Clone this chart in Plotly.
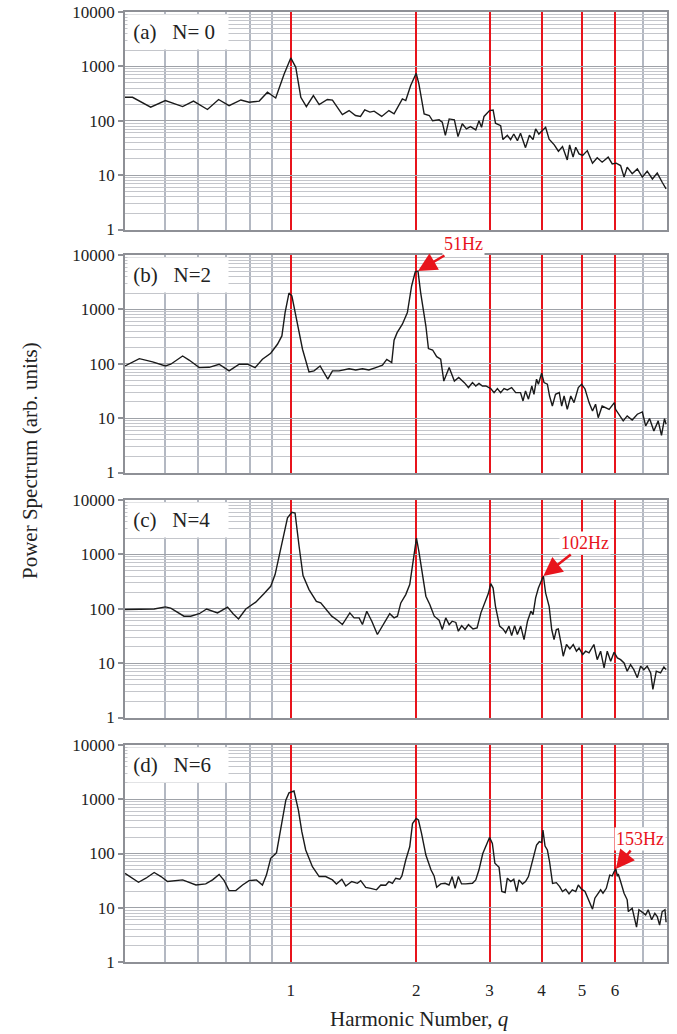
import numpy as np
import plotly.graph_objects as go

# ---------------- data ----------------
panel_labels = ["(a)&nbsp;&nbsp;&nbsp;N= 0", "(b)&nbsp;&nbsp;&nbsp;N=2", "(c)&nbsp;&nbsp;&nbsp;N=4", "(d)&nbsp;&nbsp;&nbsp;N=6"]
harmonics = [1, 2, 3, 4, 5, 6]
harmonic_labels = ["1", "2", "3", "4", "5", "6"]
y_ticks = [1, 10, 100, 1000, 10000]
y_tick_labels = ["1", "10", "100", "1000", "10000"]

q_a = [0.398, 0.417, 0.461, 0.500, 0.550, 0.584, 0.631, 0.671, 0.711, 0.759, 0.794, 0.840, 0.879, 0.920,
       0.964, 1.000, 1.028, 1.057, 1.090, 1.133, 1.170, 1.224, 1.259, 1.330, 1.380, 1.430, 1.470, 1.505,
       1.549, 1.585, 1.653, 1.720, 1.770, 1.853, 1.888, 1.940, 2.000, 2.030, 2.090, 2.150, 2.190, 2.270,
       2.310, 2.350, 2.400, 2.470, 2.520, 2.580, 2.640, 2.700, 2.780, 2.830, 2.870, 2.910, 3.000, 3.060,
       3.100, 3.190, 3.230, 3.310, 3.370, 3.430, 3.500, 3.560, 3.660, 3.740, 3.815, 3.870, 3.940, 4.020,
       4.090, 4.170, 4.290, 4.390, 4.490, 4.610, 4.670, 4.760, 4.830, 4.920, 5.020, 5.150, 5.300, 5.440,
       5.590, 5.780, 5.910, 6.040, 6.190, 6.310, 6.420, 6.600, 6.790, 6.980, 7.170, 7.380, 7.580, 7.790, 7.960]
p_a = [270, 270, 178, 235, 182, 230, 161, 246, 190, 241, 219, 230, 334, 262,
       725, 1430, 960, 270, 182, 290, 198, 246, 240, 130, 154, 125, 120, 158,
       144, 150, 120, 154, 134, 252, 235, 444, 745, 475, 134, 125, 100, 104,
       94, 54, 108, 104, 51, 88, 71, 78, 68, 100, 76, 120, 154, 158,
       90, 81, 45, 54, 45, 57, 43, 59, 32, 54, 45, 71, 57, 66,
       76, 46, 36, 27.5, 33.6, 19, 36, 21.4, 32.6, 24.6, 23, 28.2, 16.6, 20.8,
       17.3, 21.4, 16.1, 16.6, 15, 9.2, 14, 10.6, 13, 9.2, 11.8, 8.5, 10.9, 7.4, 5.6]

q_b = [0.400, 0.433, 0.466, 0.500, 0.515, 0.550, 0.570, 0.603, 0.637, 0.673, 0.711, 0.752, 0.787, 0.821,
       0.855, 0.895, 0.929, 0.952, 0.969, 0.990, 1.006, 1.032, 1.067, 1.106, 1.137, 1.176, 1.196, 1.227,
       1.259, 1.306, 1.380, 1.432, 1.486, 1.540, 1.600, 1.630, 1.660, 1.700, 1.747, 1.770, 1.800, 1.853,
       1.905, 1.950, 1.990, 2.020, 2.050, 2.110, 2.140, 2.190, 2.240, 2.290, 2.330, 2.400, 2.470, 2.530,
       2.610, 2.670, 2.730, 2.780, 2.830, 2.884, 2.940, 3.020, 3.076, 3.133, 3.190, 3.250, 3.310, 3.390,
       3.467, 3.560, 3.610, 3.660, 3.720, 3.790, 3.835, 3.890, 3.930, 4.000, 4.055, 4.130, 4.180, 4.245,
       4.320, 4.410, 4.470, 4.530, 4.610, 4.700, 4.785, 4.900, 4.990, 5.085, 5.200, 5.300, 5.390, 5.470,
       5.590, 5.810, 5.980, 6.020, 6.155, 6.280, 6.420, 6.600, 6.790, 6.980, 7.110, 7.265, 7.440, 7.620,
       7.760, 7.890, 7.960]
p_b = [91, 124, 108, 91, 98, 139, 117, 85, 86, 98, 74, 98, 98, 85,
       121, 156, 228, 325, 870, 1990, 1780, 708, 185, 71, 74, 91, 74, 52,
       74, 74, 81, 77, 81, 77, 85, 89, 94, 120, 105, 270, 373, 533,
       871, 2690, 4900, 5070, 2040, 494, 190, 179, 135, 121, 48, 85, 48, 56,
       45, 36.5, 45, 39, 43.6, 39, 39, 35, 29.5, 35, 29.5, 35, 33, 36.5,
       29.5, 29.5, 20.7, 31.6, 22.3, 39, 27.4, 52, 42, 67, 45, 42, 25.5, 16.7,
       27.4, 29.5, 16.7, 25.5, 14.5, 25.5, 19.3, 36.5, 42, 34.4, 19.3, 13.5, 18, 10.2,
       16.7, 14.5, 19.3, 14.5, 11, 8.9, 11, 9.25, 11.8, 13, 7.2, 9.8, 5.8, 8.9,
       4.8, 9.8, 7.7]

q_c = [0.400, 0.433, 0.470, 0.500, 0.515, 0.554, 0.575, 0.603, 0.628, 0.667, 0.705, 0.727, 0.749, 0.780,
       0.824, 0.863, 0.895, 0.917, 0.946, 0.982, 1.006, 1.024, 1.047, 1.070, 1.106, 1.152, 1.180, 1.254,
       1.294, 1.330, 1.386, 1.419, 1.459, 1.486, 1.522, 1.565, 1.614, 1.675, 1.728, 1.770, 1.803, 1.837,
       1.888, 1.930, 1.966, 2.003, 2.030, 2.070, 2.110, 2.156, 2.210, 2.270, 2.310, 2.355, 2.400, 2.440,
       2.490, 2.525, 2.572, 2.620, 2.670, 2.738, 2.800, 2.860, 2.930, 2.980, 3.020, 3.060, 3.100, 3.172,
       3.232, 3.280, 3.340, 3.390, 3.446, 3.499, 3.564, 3.630, 3.700, 3.770, 3.815, 3.870, 3.930, 4.040,
       4.090, 4.170, 4.230, 4.285, 4.340, 4.387, 4.460, 4.508, 4.590, 4.677, 4.764, 4.850, 4.920, 5.020,
       5.104, 5.198, 5.340, 5.440, 5.543, 5.650, 5.750, 5.860, 5.970, 6.080, 6.190, 6.310, 6.420, 6.540,
       6.660, 6.790, 6.915, 7.040, 7.170, 7.310, 7.400, 7.540, 7.720, 7.865, 7.960]
p_c = [97, 99, 99, 108, 103, 73, 73, 81, 99, 84, 107, 81, 65, 99,
       132, 190, 259, 425, 1230, 4690, 5920, 5750, 1410, 407, 225, 137, 128, 73,
       61.5, 51.3, 84, 68, 68, 51.3, 90, 59, 33.6, 53.4, 81, 68, 73, 128,
       182, 278, 800, 1990, 1140, 455, 170, 120, 73, 61.5, 41.5, 68, 51, 59,
       56, 38.6, 49, 41.5, 51, 42.5, 44.6, 84, 137, 190, 290, 240, 111, 48,
       42.5, 36, 48, 32, 49, 33.6, 48, 27, 59, 90, 78, 159, 240, 400,
       195, 111, 41.5, 27, 41.5, 42.5, 22, 13.4, 22, 18.3, 22, 16.6, 19, 14.4,
       16.6, 15.5, 22, 11.6, 16.6, 8.2, 16.6, 10.8, 15.9, 12.5, 11.6, 10.1, 7.1, 9.4,
       7.6, 5.4, 8.8, 7.6, 8.8, 6.6, 3.3, 7.1, 6.6, 8.5, 7.6]

q_d = [0.400, 0.431, 0.449, 0.470, 0.488, 0.506, 0.550, 0.592, 0.625, 0.649, 0.673, 0.692, 0.711, 0.738,
       0.766, 0.794, 0.827, 0.855, 0.874, 0.895, 0.924, 0.946, 0.973, 0.990, 1.018, 1.043, 1.063, 1.086,
       1.127, 1.170, 1.213, 1.259, 1.287, 1.326, 1.355, 1.401, 1.445, 1.472, 1.513, 1.556, 1.606, 1.645,
       1.690, 1.720, 1.754, 1.786, 1.827, 1.848, 1.888, 1.930, 1.960, 2.000, 2.025, 2.060, 2.110, 2.170,
       2.208, 2.240, 2.290, 2.346, 2.398, 2.440, 2.480, 2.525, 2.570, 2.630, 2.730, 2.780, 2.830, 2.890,
       2.950, 3.000, 3.047, 3.090, 3.162, 3.210, 3.270, 3.310, 3.373, 3.430, 3.486, 3.530, 3.600, 3.660,
       3.720, 3.790, 3.835, 3.890, 3.950, 4.000, 4.030, 4.077, 4.130, 4.180, 4.250, 4.340, 4.420, 4.490,
       4.570, 4.655, 4.740, 4.830, 4.900, 4.990, 5.085, 5.180, 5.300, 5.370, 5.470, 5.543, 5.616, 5.720,
       5.830, 5.910, 5.970, 6.030, 6.080, 6.110, 6.190, 6.310, 6.420, 6.460, 6.600, 6.760, 6.850, 6.980,
       7.110, 7.210, 7.350, 7.480, 7.580, 7.680, 7.790, 7.910, 7.960]
p_d = [43, 29.5, 35, 44.6, 37.6, 30.4, 32.6, 26.3, 27.5, 32.6, 41.2, 31.6, 20.7, 20.7,
       26.3, 31.6, 32.6, 26.3, 40, 81.5, 103, 270, 960, 1310, 1420, 630, 252, 116,
       57, 37.6, 37.6, 32.6, 27.5, 33.5, 25.2, 30.4, 28.2, 31.6, 23.8, 22.8, 21.4, 26.3,
       26, 30.4, 28.2, 35, 33.5, 38.6, 76, 133, 357, 442, 415, 235, 93.6, 50,
       38.6, 23.8, 27.5, 28.2, 26.3, 37.6, 22.8, 37.6, 27.5, 27.5, 28.2, 32.6, 50, 100,
       143, 198, 154, 66, 55.6, 19.9, 19.1, 35, 30.4, 33.5, 19.9, 32.6, 27.5, 30.4,
       37.6, 66, 87.6, 143, 165, 159, 270, 137, 116, 70.5, 28.2, 29, 24.6, 19.9,
       22, 18, 21.4, 19.9, 26.3, 22, 19.9, 14, 9.4, 15, 18.5, 21.4, 18.5, 22.8,
       40, 38.6, 46, 52, 38, 42, 30.4, 18.5, 14, 8.5, 9.8, 4.4, 9.2, 8.2,
       7.4, 9.2, 6, 7.9, 6.9, 4.8, 8.5, 9.2, 5.4]

series_q = [q_a, q_b, q_c, q_d]
series_p = [p_a, p_b, p_c, p_d]

# peak annotations
peak_panels = [2, 3, 4]
peak_texts = ["51Hz", "102Hz", "153Hz"]
peak_q = [2.02, 4.04, 6.03]
peak_p = [5070, 400, 52]
peak_offsets = [(46, -27), (42, -33), (24, -30)]

# ---------------- layout constants ----------------
W, H = 677, 1034
ML, MR, MT, MB = 125, 10, 12, 72
plot_h = H - MT - MB
panel_tops_px = [12, 255, 500, 745]
panel_h_px = 217.5

RED = "#e8141c"
FONT = "Liberation Serif, Times New Roman, serif"

fig = go.Figure()

minor_x = [0.5, 0.6, 0.7, 0.8, 0.9, 7]
minor_y = [m * 10 ** k for k in range(4) for m in range(2, 10)]

layout = dict(
    template="none",
    width=W, height=H,
    margin=dict(l=ML, r=MR, t=MT, b=MB, autoexpand=False),
    paper_bgcolor="white", plot_bgcolor="white",
    showlegend=False,
    font=dict(family=FONT, size=17, color="#222222"),
)

annotations = []
for i in range(4):
    n = i + 1
    sfx = "" if n == 1 else str(n)
    top = 1 - (panel_tops_px[i] - MT) / plot_h
    bot = 1 - (panel_tops_px[i] + panel_h_px - MT) / plot_h
    bot = max(bot, 0)
    layout["xaxis" + sfx] = dict(
        domain=[0, 1], anchor="y" + sfx, type="log", automargin=False,
        range=[np.log10(0.4), np.log10(8)],
        tickmode="array", tickvals=harmonics, ticktext=harmonic_labels,
        showticklabels=(n == 4), ticks="",
        showgrid=True, gridcolor=RED, gridwidth=2,
        minor=dict(tickmode="array", tickvals=minor_x, showgrid=True,
                   gridcolor="#b3b8c2", gridwidth=1.6, ticks=""),
        showline=True, linecolor="#8e9096", linewidth=2, mirror=True,
        zeroline=False, tickfont=dict(size=17, color="#222222"),
        ticklabelstandoff=12,
    )
    layout["yaxis" + sfx] = dict(
        domain=[bot, top], anchor="x" + sfx, type="log", automargin=False,
        range=[0, 4],
        tickmode="array", tickvals=y_ticks, ticktext=y_tick_labels,
        ticks="outside", ticklen=5, tickcolor="#8e9096", tickwidth=1.5,
        showgrid=True, gridcolor="#9fa2a8", gridwidth=1.3,
        minor=dict(tickmode="array", tickvals=minor_y, showgrid=True,
                   gridcolor="#c4c6cb", gridwidth=1, ticks=""),
        showline=True, linecolor="#8e9096", linewidth=1.5, mirror=True,
        zeroline=False, tickfont=dict(size=17, color="#222222"),
    )
    fig.add_trace(go.Scatter(
        x=series_q[i], y=series_p[i], mode="lines",
        line=dict(color="#1a1a1a", width=1.4),
        xaxis="x" + sfx, yaxis="y" + sfx, hoverinfo="skip",
    ))
    annotations.append(dict(
        xref=("x" + sfx + " domain"), yref=("y" + sfx + " domain"),
        x=0, y=1, xanchor="left", yanchor="top", xshift=2, yshift=-2,
        text="&nbsp;" + panel_labels[i], showarrow=False, align="left",
        width=100, height=34, bgcolor="white", borderpad=0,
        font=dict(size=21, color="#222222", family=FONT),
    ))

for k in range(len(peak_panels)):
    n = peak_panels[k]
    sfx = "" if n == 1 else str(n)
    annotations.append(dict(
        xref="x" + sfx, yref="y" + sfx,
        x=np.log10(peak_q[k]), y=np.log10(peak_p[k]),
        text=peak_texts[k], showarrow=True,
        ax=peak_offsets[k][0], ay=peak_offsets[k][1],
        arrowhead=2, arrowsize=1.5, arrowwidth=2.5, arrowcolor=RED,
        font=dict(size=18, color=RED, family=FONT),
        bgcolor="white", borderpad=1,
    ))

annotations.append(dict(
    xref="paper", yref="paper", x=(419 - ML) / (W - ML - MR), y=1 - (1019 - MT) / plot_h,
    xanchor="center", yanchor="middle", showarrow=False,
    text="Harmonic Number, <i>q</i>", font=dict(size=21, color="#222222", family=FONT),
))
annotations.append(dict(
    xref="paper", yref="paper", x=(30 - ML) / (W - ML - MR), y=1 - (461 - MT) / plot_h,
    xanchor="center", yanchor="middle", showarrow=False, textangle=-90,
    text="Power Spectrum (arb. units)", font=dict(size=21, color="#222222", family=FONT),
))

layout["annotations"] = annotations
fig.update_layout(**layout)
fig.write_html("out.html", config={"displayModeBar": False},
               post_script="document.body.style.margin='0';document.body.style.overflow='hidden';")
